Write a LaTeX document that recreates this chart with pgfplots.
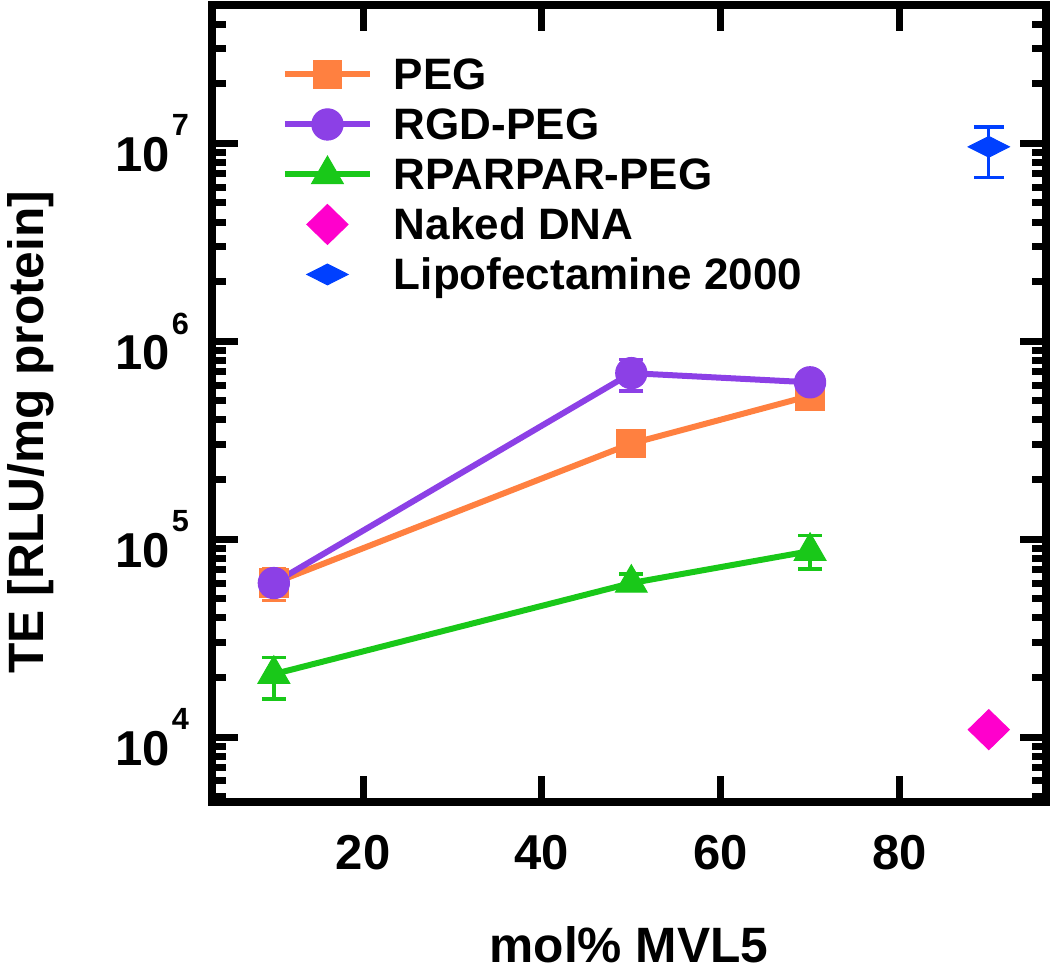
\documentclass[border=0pt]{standalone}
\usepackage{fontspec}
\setmainfont{Liberation Sans}
\usepackage{pgfplots}
\pgfplotsset{compat=1.18}
\definecolor{cPEG}{RGB}{255,128,64}
\definecolor{cRGD}{RGB}{140,64,230}
\definecolor{cRPR}{RGB}{25,200,25}
\definecolor{cDNA}{RGB}{255,0,204}
\definecolor{cLipo}{RGB}{0,64,255}
\newcommand{\tl}[1]{10\kern0.6pt\raisebox{10.6pt}{\fontsize{9.2}{9.2}\selectfont #1}}
\pgfplotsset{
  lineleg/.style={legend image code/.code={\draw[##1] (0pt,0pt) -- (25.5pt,0pt); \draw[##1, only marks] plot coordinates {(12.75pt,0pt)};}},
  markleg/.style={legend image code/.code={\path (0pt,0pt) (25.5pt,0pt); \draw[##1, only marks] plot coordinates {(12.75pt,0pt)};}},
  ebar/.style={error bars/.cd, y dir=both, y explicit, error bar style={line width=1pt},
    error mark options={rotate=90, mark size=#1, line width=1pt}},
}
\begin{document}
\begin{tikzpicture}
\begin{axis}[
  scale only axis, width=250.2pt, height=239.1pt,
  xmin=3.08, xmax=96.4, ymode=log, ymin=4.7e3, ymax=5e7,
  axis line style={line width=2.4pt},
  tick align=inside, xtick pos=both, ytick pos=both,
  major tick length=7.8pt, minor tick length=4.2pt,
  every tick/.style={black, line width=2.1pt},
  /pgf/number format/assume math mode=true,
  xtick={20,40,60,80},
  ytick={1e4,1e5,1e6,1e7}, yticklabels={\tl{4},\tl{5},\tl{6},\tl{7}},
  minor ytick={5e3,6e3,7e3,8e3,9e3,2e4,3e4,4e4,5e4,6e4,7e4,8e4,9e4,2e5,3e5,4e5,5e5,6e5,7e5,8e5,9e5,2e6,3e6,4e6,5e6,6e6,7e6,8e6,9e6,2e7,3e7,4e7},
  ticklabel style={font=\fontsize{14.7}{16}\selectfont\bfseries},
  xticklabel style={anchor=base, yshift=-20.4pt},
  yticklabel style={anchor=east, xshift=-3.4pt},
  xlabel={mol\% MVL5}, ylabel={TE [RLU/mg protein]},
  label style={font=\fontsize{14.9}{17}\selectfont\bfseries},
  xlabel style={at={(axis description cs:0.5,-0.2008)}, anchor=base},
  ylabel style={at={(axis description cs:-0.2026,0.464)}, anchor=base},
  legend cell align=left,
  legend style={at={(rel axis cs:0.0839,0.94)}, anchor=north west, draw=none, fill=none,
    inner sep=0pt, outer sep=0pt, row sep=2.0pt, column sep=6.3pt,
    font=\fontsize{13.2}{15}\selectfont\bfseries,
    nodes={inner sep=0pt, text height=11.15pt, text depth=1.85pt}},
]
\coordinate (BL) at (rel axis cs:0,0);
\coordinate (TR) at (rel axis cs:1,1);
\addplot[color=cPEG, line width=1.8pt, mark=square*, mark size=4.3pt, mark options={solid, fill=cPEG, line width=0.3pt},
  lineleg, ebar=3.6pt]
  coordinates {
  (10,6.0e4) += (0,1.1e4) -= (0,1.1e4)
  (50,3.04e5) += (0,0.1e5) -= (0,0.1e5)
  (70,5.3e5) += (0,0.3e5) -= (0,0.7e5)
  };
\addlegendentry{PEG}
\addplot[color=cRGD, line width=1.8pt, mark=*, mark size=4.7pt, mark options={solid, fill=cRGD, line width=0.3pt},
  lineleg, ebar=3.6pt]
  coordinates {
  (10,6.0e4) += (0,0.5e4) -= (0,0.5e4)
  (50,6.9e5) += (0,1.2e5) -= (0,1.3e5)
  (70,6.2e5) += (0,0.6e5) -= (0,0.7e5)
  };
\addlegendentry{RGD-PEG}
\addplot[color=cRPR, line width=1.8pt, mark=triangle*, mark size=5.5pt, mark options={solid, fill=cRPR, line width=0.3pt},
  lineleg, ebar=3.6pt]
  coordinates {
  (10,2.08e4) += (0,0.45e4) -= (0,0.52e4)
  (50,6.0e4) += (0,0.67e4) -= (0,0.5e4)
  (70,8.7e4) += (0,1.7e4) -= (0,1.63e4)
  };
\addlegendentry{RPARPAR-PEG}
\addplot[color=cDNA, only marks, mark=diamond*, mark size=6pt, mark options={solid, fill=cDNA, xscale=1.37, line width=0.3pt},
  markleg, ebar=3.3pt]
  coordinates {
  (90,1.09e4) += (0,0.05e4) -= (0,0.05e4)
  };
\addlegendentry{Naked DNA}
\addplot[color=cLipo, only marks, mark=diamond*, mark size=6pt, mark options={solid, fill=cLipo, xscale=1.37, yscale=0.52, line width=0.3pt},
  markleg, ebar=4.5pt]
  coordinates {
  (90,9.6e6) += (0,2.5e6) -= (0,2.9e6)
  };
\addlegendentry{Lipofectamine 2000}
\end{axis}
\pgfresetboundingbox
\path ([shift={(-63.6pt,-50.7pt)}]BL) rectangle ([shift={(1.2pt,1.5pt)}]TR);
\end{tikzpicture}
\end{document}
